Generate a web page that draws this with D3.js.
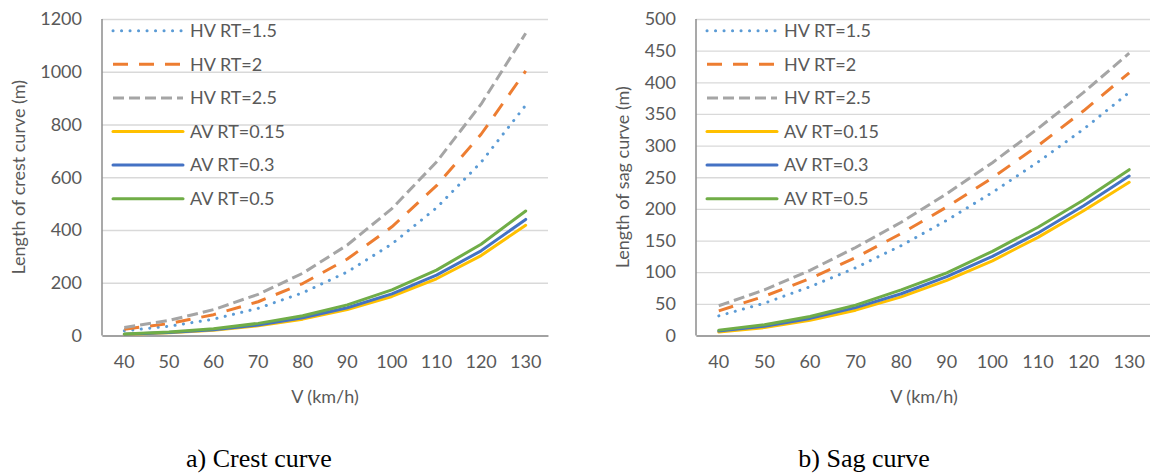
<!DOCTYPE html>
<html>
<head>
<meta charset="utf-8">
<script src="https://cdn.jsdelivr.net/npm/d3@7"></script>
<style>
    body { margin: 0; background: #fff; }
    svg { display: block; }
    text { font-family: Lato, "Open Sans", sans-serif; fill: #595959; }
    .caption { font-family: "Liberation Serif", "Times New Roman", serif; fill: #000; }
</style>
</head>
<body>
<script>
// categories
const speeds = [40, 50, 60, 70, 80, 90, 100, 110, 120, 130];
const seriesNames = ["HV RT=1.5", "HV RT=2", "HV RT=2.5", "AV RT=0.15", "AV RT=0.3", "AV RT=0.5"];

// crest curve lengths (m)
const crestHV15 = [18, 35, 62, 103, 162, 241, 347, 484, 657, 873];
const crestHV2 = [24, 45, 79, 128, 197, 290, 412, 568, 763, 1003];
const crestHV25 = [30, 57, 98, 156, 236, 343, 481, 658, 877, 1146];
const crestAV015 = [4, 10, 20, 37, 62, 98, 148, 215, 303, 418];
const crestAV03 = [5, 11, 22, 40, 67, 105, 158, 229, 321, 440];
const crestAV05 = [6, 13, 26, 46, 75, 116, 173, 248, 346, 472];

// sag curve lengths (m)
const sagHV15 = [31, 51, 77, 107, 142, 182, 226, 274, 326, 384];
const sagHV2 = [39, 62, 90, 123, 161, 203, 249, 300, 355, 415];
const sagHV25 = [47, 72, 103, 139, 179, 224, 273, 327, 384, 446];
const sagAV015 = [5.5, 12.5, 24, 40, 61, 87, 118, 155, 197, 242];
const sagAV03 = [7, 14.5, 27, 44, 66, 93, 125, 162, 205, 252];
const sagAV05 = [8.5, 17, 30, 48, 72, 99, 133, 171, 214, 262];

// y tick labels
const crestTicks = [0, 200, 400, 600, 800, 1000, 1200];
const sagTicks = [0, 50, 100, 150, 200, 250, 300, 350, 400, 450, 500];

// line styles, same order as seriesNames
const colors = ["#5B9BD5", "#ED7D31", "#A5A5A5", "#FFC000", "#4472C4", "#70AD47"];
const dashes = ["0.1,8.4", "15,11", "11,5", null, null, null];
const caps = ["round", "butt", "butt", "round", "round", "round"];

const w = 1150;
const h = 476;
const plotTop = 19;
const plotBottom = 335.5;

function drawChart(svg, cfg) {
    const g = svg.append("g");

    // create scales
    const xScale = d3.scaleBand()
        .domain(speeds)
        .range([cfg.left, cfg.right]);

    const yScale = d3.scaleLinear()
        .domain([0, d3.max(cfg.ticks)])
        .range([plotBottom, plotTop]);

    // gridlines + y labels
    const yAxis = d3.axisLeft(yScale)
        .tickValues(cfg.ticks)
        .tickFormat(d3.format("d"))
        .tickSize(-(cfg.right - cfg.left))
        .tickPadding(cfg.left - cfg.labelRight);

    const yg = g.append("g")
        .attr("transform", "translate(" + cfg.left + ",0)")
        .call(yAxis);
    yg.select(".domain").remove();
    yg.selectAll(".tick line").attr("stroke", "#d9d9d9").attr("stroke-width", 1.3);
    yg.selectAll(".tick text").style("font-size", "18px").attr("fill", "#595959");

    // x axis
    const xAxis = d3.axisBottom(xScale).tickSize(0).tickPadding(20);
    const xg = g.append("g")
        .attr("transform", "translate(0," + plotBottom + ")")
        .call(xAxis);
    xg.select(".domain").attr("stroke", "#8c8c8c").attr("stroke-width", 1.5);
    xg.selectAll(".tick text").style("font-size", "18px").attr("fill", "#595959");

    // y axis line
    g.append("line")
        .attr("x1", cfg.left).attr("x2", cfg.left)
        .attr("y1", plotTop).attr("y2", plotBottom)
        .attr("stroke", "#8c8c8c")
        .attr("stroke-width", 1.5);

    // series lines
    const line = d3.line()
        .x((d, i) => xScale(speeds[i]) + xScale.bandwidth() / 2)
        .y(d => yScale(d));

    cfg.series.forEach((values, k) => {
        g.append("path")
            .datum(values)
            .attr("d", line)
            .attr("fill", "none")
            .attr("stroke", colors[k])
            .attr("stroke-width", 3)
            .attr("stroke-linecap", caps[k])
            .attr("stroke-linejoin", "round")
            .attr("stroke-dasharray", dashes[k]);
    });

    // legend
    const legend = g.selectAll(".legend")
        .data(seriesNames)
        .enter()
        .append("g")
        .attr("transform", (d, i) => "translate(" + (cfg.left + 11) + "," + (30.7 + i * 33.6) + ")");

    legend.append("line")
        .attr("x1", 0).attr("x2", 70)
        .attr("stroke", (d, i) => colors[i])
        .attr("stroke-width", 3)
        .attr("stroke-linecap", (d, i) => caps[i])
        .attr("stroke-dasharray", (d, i) => dashes[i]);

    legend.append("text")
        .attr("x", 77)
        .attr("dy", "0.35em")
        .style("font-size", "18px")
        .text(d => d);

    // axis titles
    g.append("text")
        .attr("transform", "translate(" + cfg.titleX + "," + ((plotTop + plotBottom) / 2) + ") rotate(-90)")
        .attr("text-anchor", "middle")
        .attr("dy", "0.35em")
        .style("font-size", "18px")
        .text(cfg.yTitle);

    g.append("text")
        .attr("x", (cfg.left + cfg.right) / 2)
        .attr("y", 397)
        .attr("text-anchor", "middle")
        .attr("dy", "0.35em")
        .style("font-size", "18px")
        .text("V (km/h)");

    // caption
    svg.append("text")
        .attr("class", "caption")
        .attr("x", cfg.captionX)
        .attr("y", 467)
        .attr("text-anchor", "middle")
        .style("font-size", "26px")
        .text(cfg.caption);
}

function init() {
    "use strict";

    const svg = d3.select("body")
        .append("svg")
        .attr("width", w)
        .attr("height", h);

    drawChart(svg, {
        left: 102, right: 548, labelRight: 82, titleX: 19,
        ticks: crestTicks,
        series: [crestHV15, crestHV2, crestHV25, crestAV015, crestAV03, crestAV05],
        yTitle: "Length of crest curve (m)",
        caption: "a) Crest curve", captionX: 259
    });

    drawChart(svg, {
        left: 696, right: 1152, labelRight: 676, titleX: 623,
        ticks: sagTicks,
        series: [sagHV15, sagHV2, sagHV25, sagAV015, sagAV03, sagAV05],
        yTitle: "Length of sag curve (m)",
        caption: "b) Sag curve", captionX: 864
    });
}

window.onload = init;
</script>
</body>
</html>
